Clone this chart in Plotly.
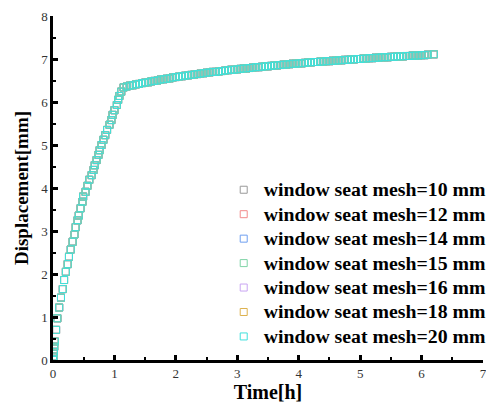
import plotly.graph_objects as go

# --- data ---
series_names = [
    "window seat mesh=10 mm",
    "window seat mesh=12 mm",
    "window seat mesh=14 mm",
    "window seat mesh=15 mm",
    "window seat mesh=16 mm",
    "window seat mesh=18 mm",
    "window seat mesh=20 mm",
]
series_colors = ["#9a9a9a", "#f28b8b", "#6f9ff0", "#7fd3a6", "#c9a6f2", "#ddb24e", "#3fe0dc"]

time_h = [
    0.00, 0.01, 0.015, 0.02, 0.03, 0.05, 0.07, 0.10, 0.13, 0.16,
    0.18, 0.21, 0.24, 0.26, 0.29, 0.32, 0.35, 0.37, 0.40, 0.42,
    0.45, 0.48, 0.49, 0.53, 0.56, 0.59, 0.63, 0.66, 0.68, 0.71,
    0.74, 0.76, 0.79, 0.82, 0.85, 0.88, 0.92, 0.95, 0.97, 1.00,
    1.04, 1.06, 1.08, 1.11,
    1.15, 1.20, 1.25, 1.30, 1.35, 1.40, 1.45, 1.50, 1.55, 1.60,
    1.65, 1.70, 1.75, 1.80, 1.85, 1.90, 1.95, 2.00, 2.05, 2.10,
    2.15, 2.20, 2.25, 2.30, 2.35, 2.40, 2.45, 2.50, 2.55, 2.60,
    2.65, 2.70, 2.75, 2.80, 2.85, 2.90, 2.95, 3.00, 3.05, 3.10,
    3.15, 3.20, 3.25, 3.30, 3.35, 3.40, 3.45, 3.50, 3.55, 3.60,
    3.65, 3.70, 3.75, 3.80, 3.85, 3.90, 3.95, 4.00, 4.05, 4.10,
    4.15, 4.20, 4.25, 4.30, 4.35, 4.40, 4.45, 4.50, 4.55, 4.60,
    4.65, 4.70, 4.75, 4.80, 4.85, 4.90, 4.95, 5.00, 5.05, 5.10,
    5.15, 5.20, 5.25, 5.30, 5.35, 5.40, 5.45, 5.50, 5.55, 5.60,
    5.65, 5.70, 5.75, 5.80, 5.85, 5.90, 5.95, 6.00, 6.05, 6.10,
    6.20,
]
displacement_mm = [
    0.00, 0.08, 0.19, 0.31, 0.43, 0.70, 0.97, 1.22, 1.45, 1.65,
    1.86, 2.05, 2.23, 2.40, 2.57, 2.75, 2.92, 3.09, 3.25, 3.36,
    3.53, 3.68, 3.80, 3.91, 4.05, 4.19, 4.30, 4.42, 4.53, 4.65,
    4.77, 4.88, 5.00, 5.12, 5.23, 5.35, 5.47, 5.58, 5.70, 5.81,
    5.93, 6.05, 6.14, 6.24,
    6.34, 6.36, 6.38, 6.39, 6.41, 6.42, 6.44, 6.45, 6.46, 6.48,
    6.49, 6.50, 6.52, 6.53, 6.54, 6.55, 6.57, 6.58, 6.59, 6.60,
    6.61, 6.62, 6.63, 6.64, 6.65, 6.66, 6.67, 6.68, 6.69, 6.70,
    6.70, 6.71, 6.72, 6.73, 6.74, 6.75, 6.75, 6.76, 6.77, 6.78,
    6.78, 6.79, 6.80, 6.81, 6.81, 6.82, 6.83, 6.83, 6.84, 6.85,
    6.85, 6.86, 6.87, 6.87, 6.88, 6.89, 6.89, 6.90, 6.90, 6.91,
    6.92, 6.92, 6.93, 6.93, 6.94, 6.94, 6.95, 6.95, 6.96, 6.96,
    6.97, 6.97, 6.98, 6.98, 6.99, 6.99, 7.00, 7.00, 7.01, 7.01,
    7.02, 7.02, 7.03, 7.03, 7.04, 7.04, 7.04, 7.05, 7.05, 7.06,
    7.06, 7.06, 7.07, 7.07, 7.08, 7.08, 7.08, 7.09, 7.09, 7.10,
    7.11,
]

x_ticks = [0, 1, 2, 3, 4, 5, 6, 7]
y_ticks = [0, 1, 2, 3, 4, 5, 6, 7, 8]

SERIF = "Liberation Serif, Times New Roman, serif"

fig = go.Figure()
for i, (name, col) in enumerate(zip(series_names, series_colors)):
    fig.add_trace(go.Scatter(
        x=time_h, y=displacement_mm, mode="markers",
        name=f'<span style="font-size:19.8px">{name}</span>',
        legendgroup=f"g{i}",
        marker=dict(symbol="square-open", size=7, color=col,
                    line=dict(color=col, width=1)),
    ))

axis_common = dict(
    showline=True, linecolor="black", linewidth=2.5,
    ticks="inside", ticklen=5, tickwidth=2.5, tickcolor="black",
    showgrid=False, zeroline=False, mirror=False,
    tickfont=dict(family=SERIF, size=13, color="#333333"),
    ticklabeloverflow="allow",
    minor=dict(ticks="inside", ticklen=3, tickwidth=2, tickcolor="black", dtick=0.5),
)

fig.update_layout(
    width=486, height=412,
    margin=dict(l=53, r=3, t=16, b=52, autoexpand=False),
    plot_bgcolor="white", paper_bgcolor="white",
    showlegend=True,
    legend=dict(
        x=0.397, y=0.545, xanchor="left", yanchor="top",
        font=dict(family=SERIF, size=16.5, color="black", weight="bold"),
        bgcolor="rgba(0,0,0,0)", tracegroupgap=0,
        itemsizing="trace",
    ),
    xaxis=dict(axis_common, range=[0, 7], tickvals=x_ticks,
               title=dict(text="<b>Time[h]</b>", standoff=0,
                          font=dict(family=SERIF, size=20, color="black"))),
    yaxis=dict(axis_common, range=[0, 8], tickvals=y_ticks,
               title=dict(text="<b>Displacement[mm]</b>", standoff=8,
                          font=dict(family=SERIF, size=19, color="black"))),
)

fig.write_html("out.html")
